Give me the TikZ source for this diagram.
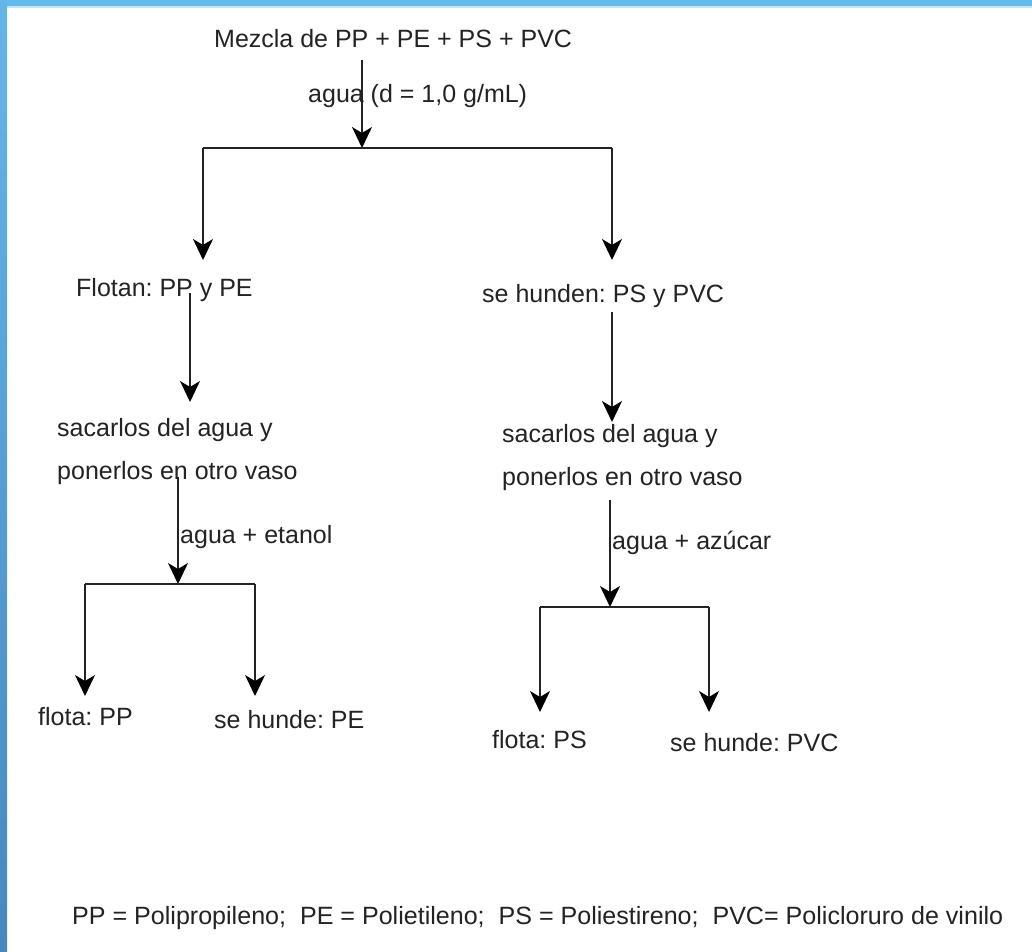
\documentclass[tikz,border=0pt]{standalone}
\usepackage{fontspec}
\setmainfont{Liberation Sans}
\usetikzlibrary{arrows.meta}
\definecolor{ink}{RGB}{35,35,35}
\definecolor{topblue}{RGB}{100,188,234}
\definecolor{lefttop}{RGB}{100,182,230}
\definecolor{leftbot}{RGB}{72,135,192}
\tikzset{
  txt/.style={anchor=base west, inner sep=0pt, text=ink, font=\fontsize{25}{30}\selectfont},
  conn/.style={draw=ink, line width=1.8pt},
  arr/.style={conn, -{Stealth[length=21pt, width=20pt, inset=6pt, color=black]}}
}
\begin{document}
\frenchspacing
\begin{tikzpicture}[x=1pt, y=-1pt]
\useasboundingbox (0,0) rectangle (1032,951);
\fill[white] (0,0) rectangle (1032,951);
% frame
\fill[topblue] (0,0) rectangle (1032,6);
\fill[white!60!topblue] (7,6) rectangle (1032,7.5);
\shade[top color=lefttop, bottom color=leftbot] (0,0) rectangle (7,951);

% texts
\node[txt] (mix) at (214,47) {Mezcla de PP + PE + PS + PVC};
\node[txt] (w1) at (308,102) {agua (d = 1,0 g/mL)};
\node[txt] (flo) at (76,296) {Flotan: PP y PE};
\node[txt] (hun) at (482,302) {se hunden: PS y PVC};
\node[txt] (sacL) at (57,436) {sacarlos del agua y};
\node[txt] (ponL) at (57,479) {ponerlos en otro vaso};
\node[txt] (etan) at (180,543) {agua + etanol};
\node[txt] (sacR) at (502,442) {sacarlos del agua y};
\node[txt] (ponR) at (502,485) {ponerlos en otro vaso};
\node[txt] (azu) at (612,549) {agua + azúcar};
\node[txt] (fPP) at (38,725) {flota: PP};
\node[txt] (hPE) at (214,728) {se hunde: PE};
\node[txt] (fPS) at (492,748) {flota: PS};
\node[txt] (hPVC) at (670,751) {se hunde: PVC};
\node[txt] (leg) at (72,924) {\resizebox{931pt}{\height}{PP = Polipropileno;\ \ PE = Polietileno;\ \ PS = Poliestireno;\ \ PVC= Policloruro de vinilo}};

% coordinates
\coordinate (s0) at (362,60);
\coordinate (j0) at (362,148);
\coordinate (jL) at (203,148);
\coordinate (jR) at (612,148);
\coordinate (eL) at (203,260);
\coordinate (eR) at (612,260);
\coordinate (s1) at (190,293);
\coordinate (e1) at (190,402);
\coordinate (s2) at (612,312);
\coordinate (e2) at (612,422);
\coordinate (s3) at (178,477);
\coordinate (j3) at (178,584);
\coordinate (j3L) at (85,584);
\coordinate (j3R) at (255,584);
\coordinate (e3L) at (85,696);
\coordinate (e3R) at (255,696);
\coordinate (s4) at (610,500);
\coordinate (j4) at (610,607);
\coordinate (j4L) at (540,607);
\coordinate (j4R) at (709,607);
\coordinate (e4L) at (540,712);
\coordinate (e4R) at (709,712);

% connectors
\draw[arr] (s0) -- (j0);
\draw[conn] (jL) -- (jR);
\draw[arr] (jL) -- (eL);
\draw[arr] (jR) -- (eR);
\draw[arr] (s1) -- (e1);
\draw[arr] (s2) -- (e2);
\draw[arr] (s3) -- (j3);
\draw[conn] (j3L) -- (j3R);
\draw[arr] (j3L) -- (e3L);
\draw[arr] (j3R) -- (e3R);
\draw[arr] (s4) -- (j4);
\draw[conn] (j4L) -- (j4R);
\draw[arr] (j4L) -- (e4L);
\draw[arr] (j4R) -- (e4R);
\end{tikzpicture}
\end{document}
